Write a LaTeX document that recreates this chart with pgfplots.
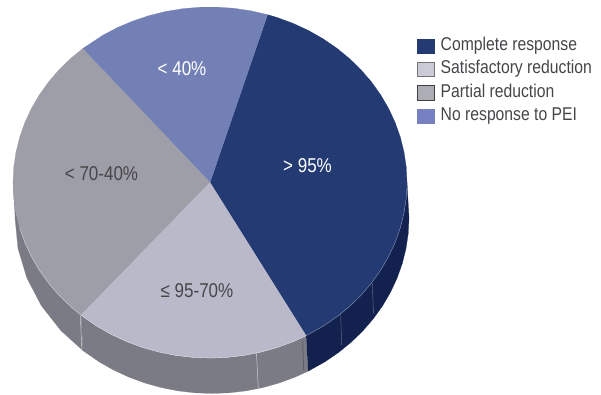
\documentclass[border=0pt]{standalone}
\usepackage{pgfplots}
\pgfplotsset{compat=1.18}
\usepackage{fontspec}
\setmainfont[FakeStretch=0.85]{Liberation Sans}
\definecolor{cDark}{HTML}{233A72}
\definecolor{cDarkWall}{HTML}{13214F}
\definecolor{cLight}{HTML}{B9B9CA}
\definecolor{cGray}{HTML}{9E9EA8}
\definecolor{cBlue}{HTML}{7380B5}
\definecolor{cWall}{HTML}{7B7B86}
\definecolor{cText}{HTML}{46464A}
% Angles on the pie are mapped on to the tilted disc (top face, and rim at depth lvl)
\pgfplotsset{
  table/face/.style={row sep=\\,
    x expr={210+197*\thisrow{r}*cos(\thisrow{deg})},
    y expr={-182.5+175.5*\thisrow{r}*sin(\thisrow{deg})}},
  table/wall/.style={row sep=\\,
    x expr={210+2*\thisrow{lvl}+197*cos(\thisrow{deg})},
    y expr={-182.5-35.5*\thisrow{lvl}+175.5*sin(\thisrow{deg})}},
}
\begin{document}
\begin{tikzpicture}
\path[use as bounding box] (0,0) rectangle (601pt,394pt);
\begin{axis}[
  at={(0,0)}, anchor=south west,
  scale only axis, width=601pt, height=394pt,
  xmin=0, xmax=601, ymin=-394, ymax=0,
  hide axis, clip=false,
  legend image code/.code={\draw[#1] (0pt,-7.2pt) rectangle (16.6pt,7.2pt);},
  legend style={at={(axis cs:417,-38.5)}, anchor=north west, draw=none, fill=none,
    inner sep=0pt, outer sep=0pt, row sep=8.5pt,
    font=\fontsize{18.5}{20}\selectfont, text=cText,
    nodes={inner sep=0pt, anchor=west, text depth=3pt, text height=12pt},
    /tikz/column 2/.style={column sep=0pt}},
  legend cell align=left,
]
% side walls
\addplot[forget plot, fill=cWall, draw=cWall, line width=0.2pt] table[wall] {
deg lvl \\ 180 0 \\ 190 0 \\ 200 0 \\ 210 0 \\ 220 0 \\ 229.1 0 \\
229.1 1 \\ 220 1 \\ 210 1 \\ 200 1 \\ 190 1 \\ 180 1 \\};
\addplot[forget plot, fill=cWall, draw=cWall, line width=0.2pt] table[wall] {
deg lvl \\ 229.1 0 \\ 235 0 \\ 240 0 \\ 245 0 \\ 250 0 \\ 255 0 \\ 260 0 \\ 265 0 \\ 270 0 \\
275 0 \\ 280 0 \\ 285 0 \\ 290 0 \\ 295 0 \\ 299.2 0 \\
299.2 1 \\ 295 1 \\ 290 1 \\ 285 1 \\ 280 1 \\ 275 1 \\ 270 1 \\ 265 1 \\ 260 1 \\ 255 1 \\
250 1 \\ 245 1 \\ 240 1 \\ 235 1 \\ 229.1 1 \\};
\addplot[forget plot, fill=cDarkWall, draw=cDarkWall, line width=0.2pt] table[wall] {
deg lvl \\ 299.2 0 \\ 305 0 \\ 310 0 \\ 315 0 \\ 320 0 \\ 325 0 \\ 330 0 \\ 335 0 \\ 340 0 \\
345 0 \\ 350 0 \\ 355 0 \\ 360 0 \\
360 1 \\ 355 1 \\ 350 1 \\ 345 1 \\ 340 1 \\ 335 1 \\ 330 1 \\ 325 1 \\ 320 1 \\ 315 1 \\
310 1 \\ 305 1 \\ 299.2 1 \\};
% seams on the wall
\addplot[forget plot, draw=white!70!cWall, line width=0.45pt] coordinates {(80.3,-316) (82,-351.7)};
\addplot[forget plot, draw=white!70!cWall, line width=0.45pt] coordinates {(256.5,-353) (258.3,-388.5)};
\addplot[forget plot, draw=cWall!60!black, line width=0.45pt] coordinates {(302.7,-340) (303.5,-370)};
\addplot[forget plot, draw=white!35!cDarkWall, line width=0.45pt] coordinates {(340.7,-314) (341.6,-345)};
\addplot[forget plot, draw=white!35!cDarkWall, line width=0.45pt] coordinates {(372.3,-283.5) (373.5,-314)};
% top face of the pie
\addplot[forget plot, fill=cDark, draw=cDark, line width=0.2pt] table[face] {
deg r \\ 0 0 \\ 299.2 1 \\ 305 1 \\ 310 1 \\ 315 1 \\ 320 1 \\ 325 1 \\ 330 1 \\ 335 1 \\ 340 1 \\
345 1 \\ 350 1 \\ 355 1 \\ 360 1 \\ 365 1 \\ 370 1 \\ 375 1 \\ 380 1 \\ 385 1 \\ 390 1 \\ 395 1 \\
400 1 \\ 405 1 \\ 410 1 \\ 415 1 \\ 420 1 \\ 425 1 \\ 430 1 \\ 433 1 \\ 0 0 \\};
\addplot[forget plot, fill=cBlue, draw=cBlue, line width=0.2pt] table[face] {
deg r \\ 0 0 \\ 73 1 \\ 78 1 \\ 83 1 \\ 88 1 \\ 93 1 \\ 98 1 \\ 103 1 \\ 108 1 \\ 113 1 \\ 118 1 \\
123 1 \\ 130.3 1 \\ 0 0 \\};
\addplot[forget plot, fill=cGray, draw=cGray, line width=0.2pt] table[face] {
deg r \\ 0 0 \\ 130.3 1 \\ 135 1 \\ 140 1 \\ 145 1 \\ 150 1 \\ 155 1 \\ 160 1 \\ 165 1 \\ 170 1 \\
175 1 \\ 180 1 \\ 185 1 \\ 190 1 \\ 195 1 \\ 200 1 \\ 205 1 \\ 210 1 \\ 215 1 \\ 220 1 \\ 225 1 \\
229.1 1 \\ 0 0 \\};
\addplot[forget plot, fill=cLight, draw=cLight, line width=0.2pt] table[face] {
deg r \\ 0 0 \\ 229.1 1 \\ 235 1 \\ 240 1 \\ 245 1 \\ 250 1 \\ 255 1 \\ 260 1 \\ 265 1 \\ 270 1 \\
275 1 \\ 280 1 \\ 285 1 \\ 290 1 \\ 295 1 \\ 299.2 1 \\ 0 0 \\};
% pale highlight along the rim
\addplot[forget plot, draw=white!55!cGray, line width=0.4pt] table[face] {
deg r \\ 195 1 \\ 200 1 \\ 205 1 \\ 210 1 \\ 215 1 \\ 220 1 \\ 225 1 \\ 229.1 1 \\};
\addplot[forget plot, draw=white!55!cLight, line width=0.35pt] table[face] {
deg r \\ 229.1 1 \\ 235 1 \\ 240 1 \\ 245 1 \\ 250 1 \\ 255 1 \\ 260 1 \\ 265 1 \\ 270 1 \\
275 1 \\ 280 1 \\ 285 1 \\ 290 1 \\ 295 1 \\ 299.2 1 \\};
\addplot[forget plot, draw=white!40!cDark, line width=0.45pt] table[face] {
deg r \\ 299.2 1 \\ 305 1 \\ 310 1 \\ 315 1 \\ 320 1 \\ 325 1 \\ 330 1 \\ 335 1 \\ 340 1 \\
345 1 \\ 350 1 \\ 355 1 \\ 358 1 \\};
% slice labels
\node[text=white, font=\fontsize{20}{22}\selectfont] at (axis cs:307.5,-166) {> 95\%};
\node[text=white, font=\fontsize{20}{22}\selectfont] at (axis cs:182,-68.5) {< 40\%};
\node[text=cText, font=\fontsize{20}{22}\selectfont] at (axis cs:101.5,-173.5) {< 70-40\%};
\node[text=cText, font=\fontsize{20}{22}\selectfont] at (axis cs:197,-290.5) {≤ 95-70\%};
% legend
\addlegendimage{fill=cDark, draw=cDark}
\addlegendentry{\hspace{6.5pt}Complete response}
\addlegendimage{fill=white!25!cLight, draw=black!55, line width=0.6pt}
\addlegendentry{\hspace{6.5pt}Satisfactory reduction}
\addlegendimage{fill=white!15!cGray, draw=black!75, line width=0.6pt}
\addlegendentry{\hspace{6.5pt}Partial reduction}
\addlegendimage{fill=white!10!cBlue!92!blue, draw=white!10!cBlue!92!blue}
\addlegendentry{\hspace{6.5pt}No response to PEI}
\end{axis}
\end{tikzpicture}
\end{document}
